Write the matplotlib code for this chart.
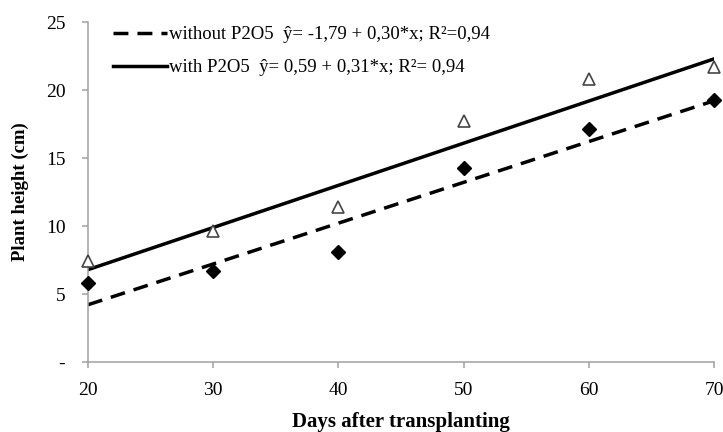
import matplotlib.pyplot as plt
import numpy as np

# ---- Data ----
days = [20, 30, 40, 50, 60, 70]
height_without = [5.8, 6.7, 8.1, 14.3, 17.1, 19.3]
height_with = [7.4, 9.6, 11.4, 17.7, 20.8, 21.7]

# regression coefficients (intercept, slope) as printed in the legend
fit_without = (-1.79, 0.30)
fit_with = (0.59, 0.31)

label_without = "without P2O5  ŷ= -1,79 + 0,30*x; R²=0,94"
label_with = "with P2O5  ŷ= 0,59 + 0,31*x; R²= 0,94"

x_ticks = [20, 30, 40, 50, 60, 70]
y_ticks = [0, 5, 10, 15, 20, 25]
y_tick_labels = ["-", "5", "10", "15", "20", "25"]

plt.rcParams["font.family"] = ["Liberation Serif", "DejaVu Serif"]

fig = plt.figure(figsize=(7.23, 4.32), dpi=100)
ax = fig.add_axes([0.1217, 0.162, 0.8659, 0.787])

xs = np.array([days[0], days[-1]])
ax.plot(xs, fit_without[0] + fit_without[1] * xs, color="black", lw=2.5,
        linestyle=(0, (4.3, 2.6)), dash_capstyle="butt", label=label_without)
ax.plot(xs, fit_with[0] + fit_with[1] * xs, color="black", lw=2.5,
        label=label_with)

ax.plot(days, height_without, linestyle="none", marker="D", markersize=7.5,
        color="black", clip_on=False, zorder=3)
ax.plot(days, height_with, linestyle="none", marker="^", markersize=9,
        markerfacecolor="white", markeredgecolor="#444444", markeredgewidth=1.2,
        clip_on=False, zorder=3)

ax.set_xlim(20, 70)
ax.set_ylim(0, 25)
ax.set_xticks(x_ticks)
ax.set_yticks(y_ticks)
ax.set_yticklabels(y_tick_labels)

for side in ["top", "right"]:
    ax.spines[side].set_visible(False)
for side in ["left", "bottom"]:
    ax.spines[side].set_color("#a0a0a0")
    ax.spines[side].set_linewidth(1.1)
ax.tick_params(axis="both", direction="out", color="#a0a0a0", length=4.3,
               width=1.1, labelsize=14)
ax.tick_params(axis="x", pad=10)
ax.tick_params(axis="y", pad=12)

ax.set_xlabel("Days after transplanting", fontsize=15, fontweight="bold")
ax.xaxis.set_label_coords(0.5, -0.147)
ax.set_ylabel("Plant height (cm)", fontsize=13.5, fontweight="bold")
ax.yaxis.set_label_coords(-0.095, 0.5)

ax.legend(loc="upper left", bbox_to_anchor=(113 / 723, 1 - 26 / 432),
          bbox_transform=fig.transFigure, frameon=False, borderpad=0,
          borderaxespad=0, fontsize=13.5, handlelength=2.9, handletextpad=0.1,
          labelspacing=0.85)

fig.savefig("out.png", dpi=100)
